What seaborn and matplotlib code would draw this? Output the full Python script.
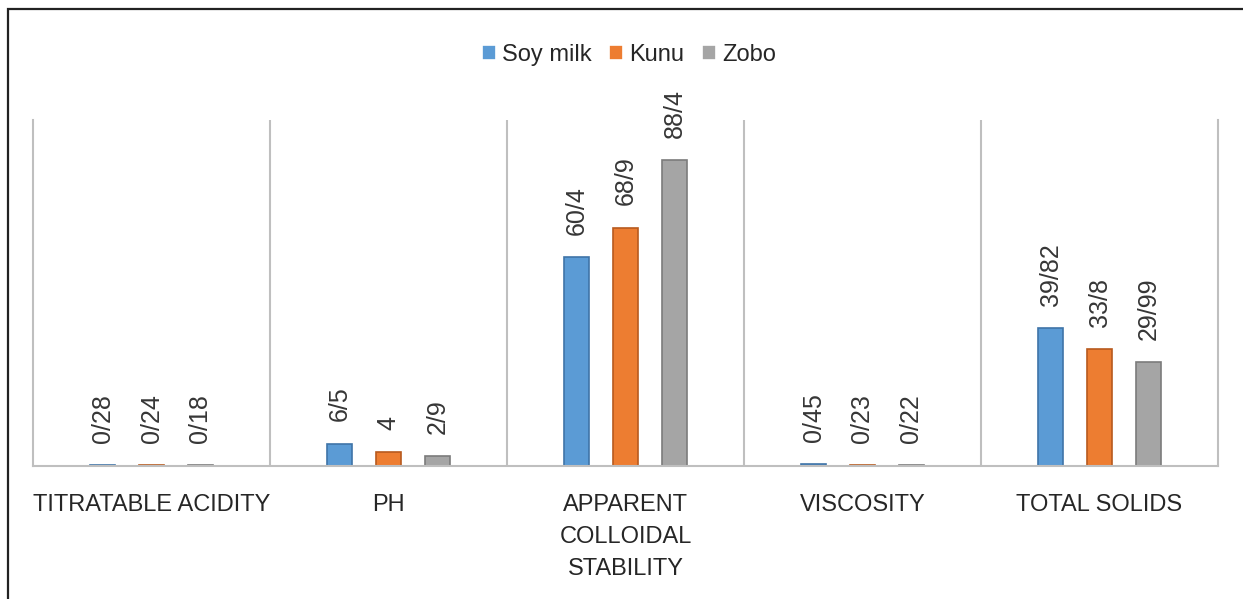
import pandas as pd
import matplotlib.pyplot as plt
import seaborn as sns
from matplotlib.patches import Rectangle

# data
categories = ["TITRATABLE ACIDITY", "PH", "APPARENT\nCOLLOIDAL\nSTABILITY", "VISCOSITY", "TOTAL SOLIDS"]
soy_milk = [0.28, 6.5, 60.4, 0.45, 39.82]
kunu = [0.24, 4.0, 68.9, 0.23, 33.8]
zobo = [0.18, 2.9, 88.4, 0.22, 29.99]
series_names = ["Soy milk", "Kunu", "Zobo"]

colors = ["#5B9BD5", "#ED7D31", "#A5A5A5"]
edge_colors = ["#3F74A8", "#B85A1E", "#7B7B7B"]

df = pd.DataFrame({
    "categoria": categories * 3,
    "serie": [s for s in series_names for _ in categories],
    "valor": soy_milk + kunu + zobo,
})

sns.set_theme(style="white")
plt.rcParams["font.family"] = ["Liberation Sans", "DejaVu Sans"]

fig = plt.figure(figsize=(12.43, 5.99), dpi=100)
ax = fig.add_axes([33 / 1243, 133 / 599, 1185 / 1243, 346 / 599])

sns.barplot(data=df, x="categoria", y="valor", hue="serie", order=categories,
            hue_order=series_names, palette=colors, saturation=1, width=0.62,
            gap=0.47, linewidth=1.2, ax=ax)

# bordes más oscuros y etiquetas de valor
for i, cont in enumerate(ax.containers):
    for bar in cont:
        bar.set_edgecolor(edge_colors[i])
    etiquetas = [f"{v:g}".replace(".", "/") for v in cont.datavalues]
    ax.bar_label(cont, labels=etiquetas, rotation=90, padding=16, fontsize=18,
                 color="#363636")

ax.set_xlim(-0.5, len(categories) - 0.5)
ax.set_ylim(0, 100)
ax.set_yticks([])
ax.set_xlabel("")
ax.set_ylabel("")

# separadores verticales entre categorías
for x in range(1, len(categories)):
    ax.axvline(x - 0.5, color="#BFBFBF", lw=1.5, zorder=0)

for lado in ["left", "right", "bottom"]:
    ax.spines[lado].set_color("#BFBFBF")
    ax.spines[lado].set_linewidth(1.5)
ax.spines["top"].set_visible(False)

ax.tick_params(axis="x", length=0, pad=20, labelsize=17, labelcolor="#262626")
for lbl in ax.get_xticklabels():
    lbl.set_linespacing(1.6)
    lbl.set_verticalalignment("top")

# leyenda arriba al centro
handles, labels = ax.get_legend_handles_labels()
ax.legend_.remove()
fig.legend(handles, labels, loc="center", bbox_to_anchor=(0.506, 0.908), ncol=3,
           frameon=False, fontsize=17, handlelength=0.6, handleheight=0.6,
           handletextpad=0.25, columnspacing=0.75)

# marco de la figura
fig.patches.append(Rectangle((8 / 1243, -0.05), 1.1, 0.05 + 590 / 599,
                             transform=fig.transFigure, fill=False,
                             edgecolor="#222222", lw=1.6))

plt.savefig("out.png", dpi=100)
